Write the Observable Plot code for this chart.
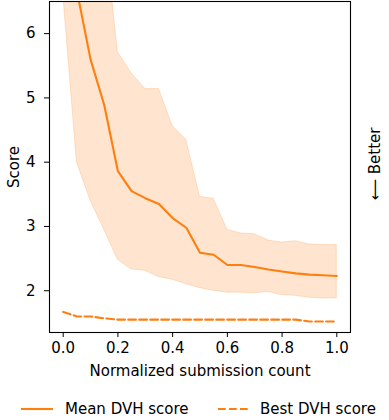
<!DOCTYPE html>
<html>
<head>
<meta charset="utf-8">
<script src="https://cdn.jsdelivr.net/npm/d3@7"></script>
<script src="https://cdn.jsdelivr.net/npm/@observablehq/plot@0.6"></script>
<style>
  body { margin: 0; background: white; font-family: "DejaVu Sans", sans-serif; }
  #wrap { position: relative; width: 389px; height: 420px; overflow: hidden; }
  #legend { position: absolute; left: 0; top: 398px; width: 389px; height: 22px; font-size: 15px; color: black; }
  #legend .item { position: absolute; top: 0; height: 22px; display: flex; align-items: center; white-space: nowrap; }
  #legend svg { display: block; }
</style>
</head>
<body>
<div id="wrap">
  <div id="chart"></div>
  <div id="legend">
    <div class="item" style="left:21px"><svg width="32" height="10"><line x1="0" x2="32" y1="5" y2="5" stroke="#ff7f0e" stroke-width="2.1"/></svg><span style="margin-left:12px">Mean DVH score</span></div>
    <div class="item" style="left:218px"><svg width="30" height="10"><line x1="0" x2="30" y1="5" y2="5" stroke="#ff7f0e" stroke-width="2.1" stroke-dasharray="7.7,3.3"/></svg><span style="margin-left:12px">Best DVH score</span></div>
  </div>
</div>
<script>
const xs = [0, 0.05, 0.1, 0.15, 0.2, 0.25, 0.3, 0.35, 0.4, 0.45, 0.5, 0.55, 0.6, 0.65, 0.7, 0.75, 0.8, 0.85, 0.9, 0.95, 1.0];
const meanScore = [9.0, 6.67, 5.6, 4.89, 3.86, 3.55, 3.44, 3.35, 3.13, 2.98, 2.59, 2.56, 2.40, 2.40, 2.37, 2.33, 2.30, 2.27, 2.25, 2.24, 2.23];
const upperBand = [11.0, 10.0, 9.0, 7.7, 5.71, 5.38, 5.14, 5.14, 4.56, 4.35, 3.46, 3.43, 2.95, 2.89, 2.88, 2.78, 2.75, 2.77, 2.72, 2.71, 2.71];
const lowerBand = [6.63, 4.0, 3.40, 2.95, 2.48, 2.33, 2.31, 2.21, 2.17, 2.10, 2.04, 2.00, 1.97, 1.97, 1.96, 1.98, 1.93, 1.92, 1.89, 1.88, 1.88];
const bestScore = [1.67, 1.60, 1.60, 1.57, 1.55, 1.55, 1.55, 1.55, 1.55, 1.55, 1.55, 1.55, 1.55, 1.55, 1.55, 1.55, 1.55, 1.55, 1.52, 1.52, 1.52];
const xTicks = [0, 0.2, 0.4, 0.6, 0.8, 1.0];
const yTicks = [2, 3, 4, 5, 6];

const data = xs.map((x, i) => ({x, mean: meanScore[i], upper: upperBand[i], lower: lowerBand[i], best: bestScore[i]}));
const orange = "#ff7f0e";

const chart = Plot.plot({
  width: 389,
  height: 392,
  marginLeft: 49,
  marginRight: 39,
  marginTop: 1,
  marginBottom: 60,
  style: {fontFamily: "DejaVu Sans", fontSize: "15px", background: "white", color: "black", overflow: "visible"},
  x: {domain: [-0.05, 1.05]},
  y: {domain: [1.35, 6.5]},
  marks: [
    Plot.areaY(data, {x: "x", y1: "lower", y2: "upper", fill: orange, fillOpacity: 0.2, stroke: orange, strokeOpacity: 0.2, strokeWidth: 1, clip: true}),
    Plot.lineY(data, {x: "x", y: "mean", stroke: orange, strokeWidth: 2.1, clip: true}),
    Plot.lineY(data, {x: "x", y: "best", stroke: orange, strokeWidth: 2.1, strokeDasharray: "7.7,3.3"}),
    Plot.frame({stroke: "black", strokeWidth: 1.1}),
    Plot.axisX({ticks: xTicks, tickFormat: d3.format(".1f"), tickSize: 5, tickPadding: 5, fontSize: 15, label: "Normalized submission count", labelAnchor: "center", labelOffset: 43, labelArrow: "none"}),
    Plot.axisY({ticks: yTicks, tickFormat: d3.format("d"), tickSize: 5, tickPadding: 9, fontSize: 15, label: "Score", labelAnchor: "center", labelOffset: 41.5, labelArrow: "none"}),
    Plot.text(["⟵ Better"], {frameAnchor: "right", textAnchor: "middle", dx: 25, dy: -3, rotate: -90, fontSize: 15})
  ]
});
document.getElementById("chart").appendChild(chart);
</script>
</body>
</html>
